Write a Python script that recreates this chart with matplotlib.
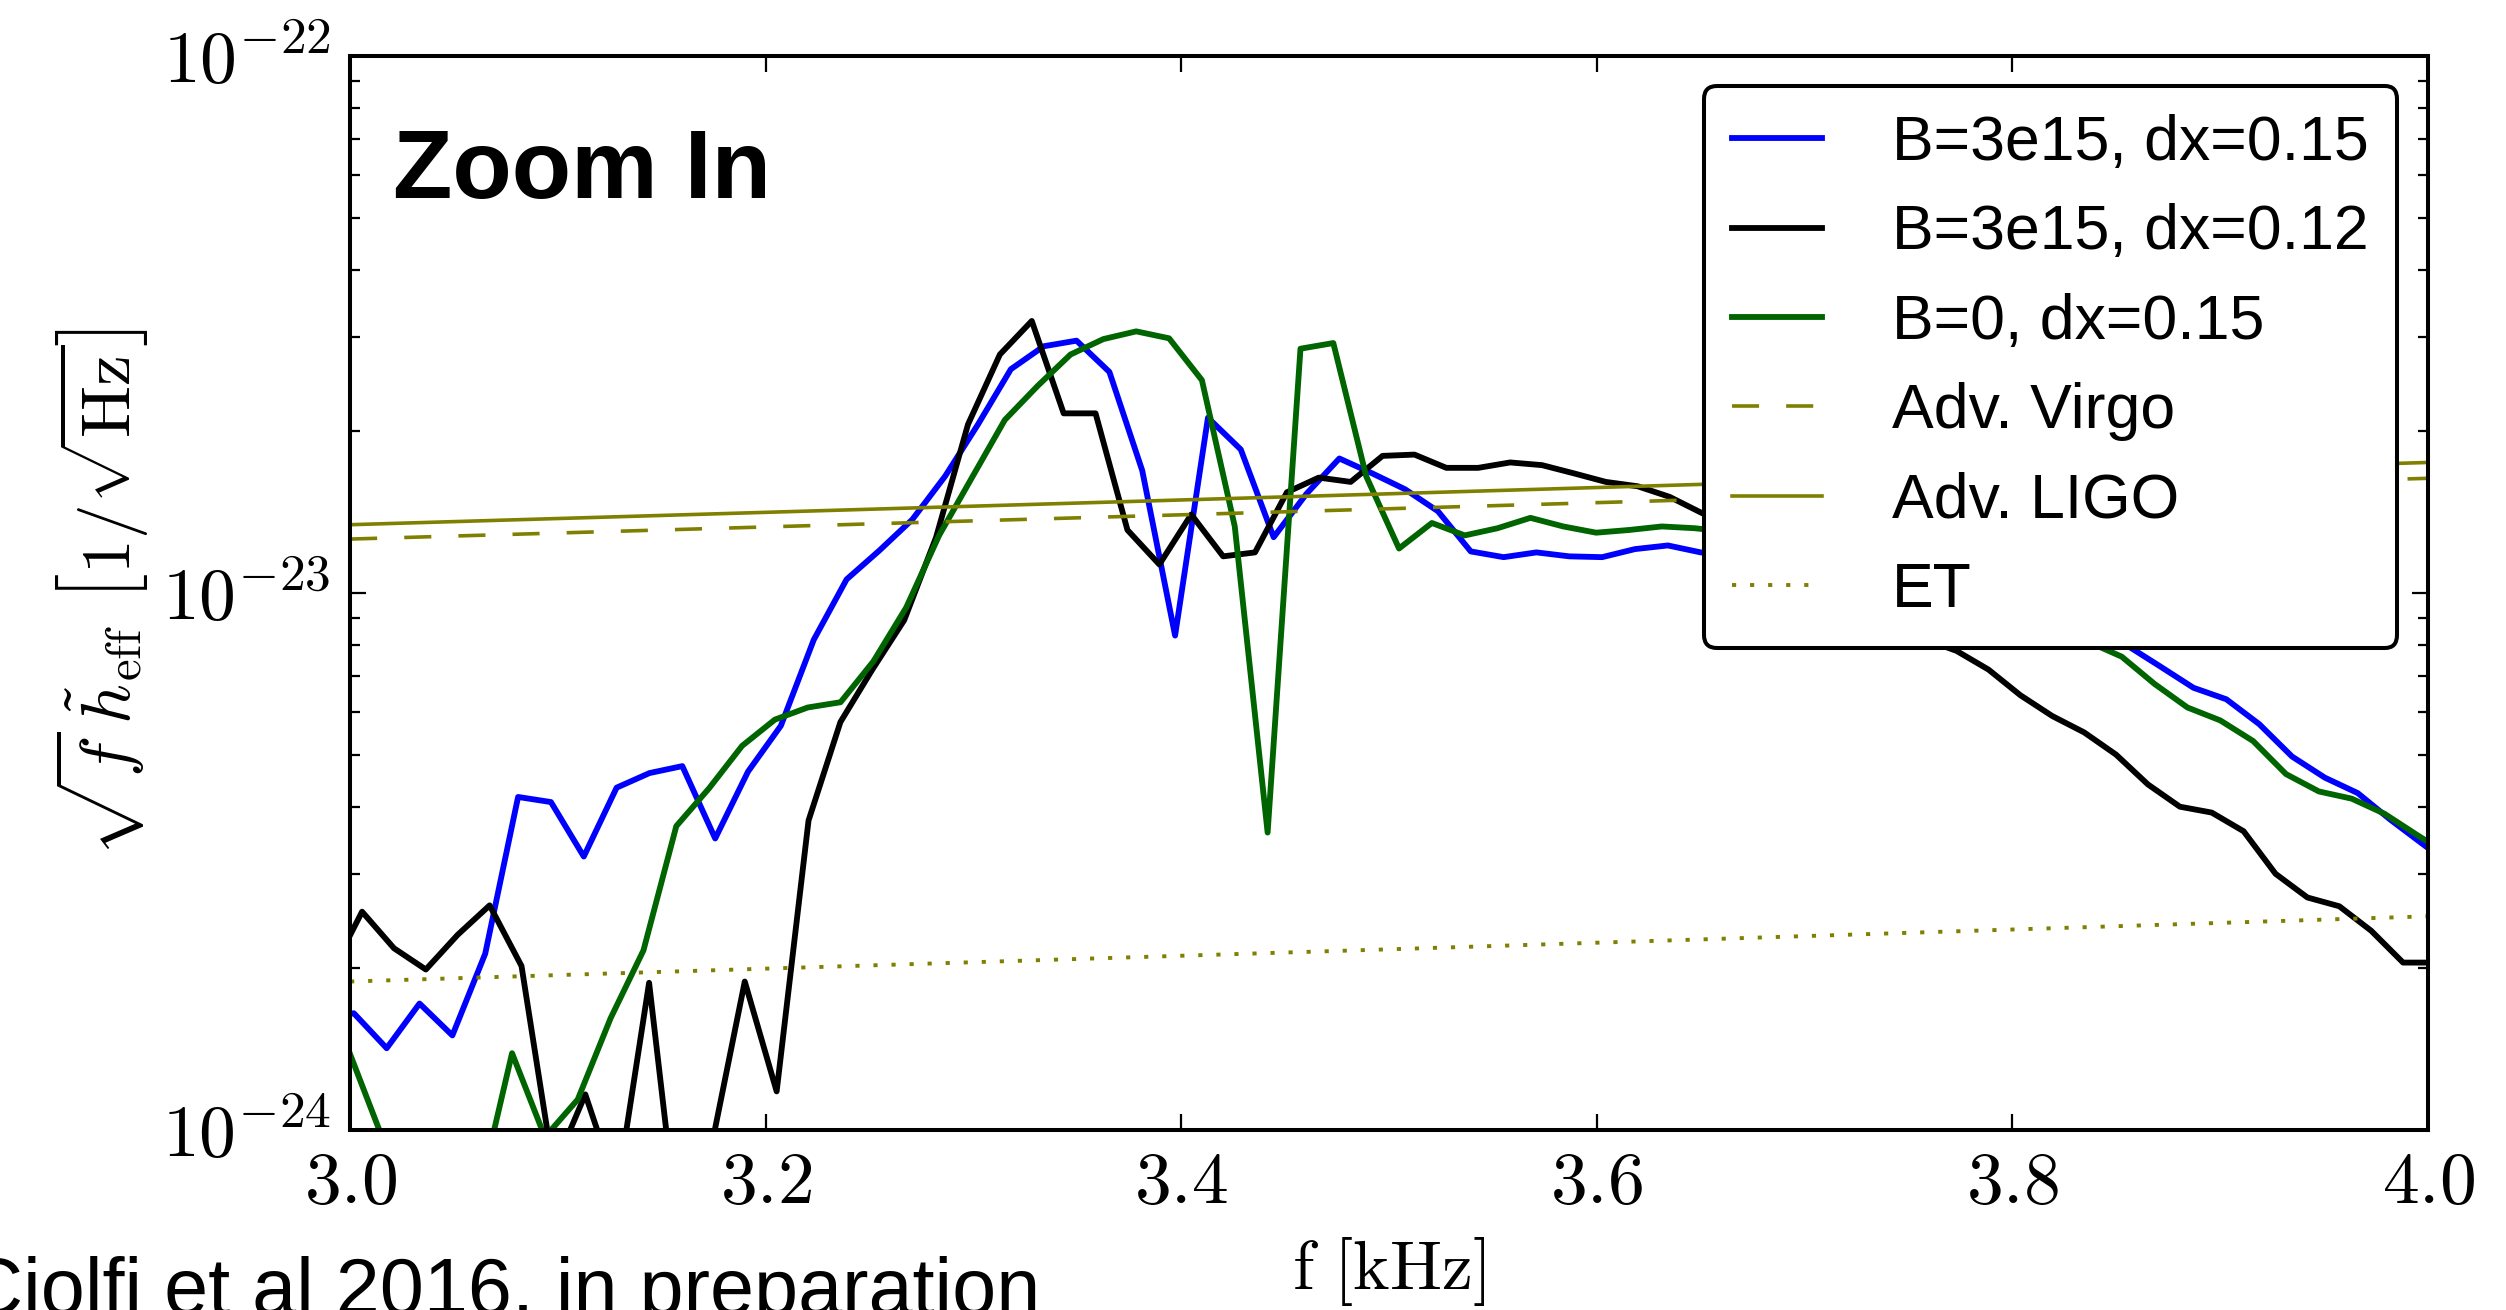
import numpy as np
import matplotlib
matplotlib.use('Agg')
import matplotlib.pyplot as plt
from matplotlib.ticker import FuncFormatter, LogLocator, NullFormatter, NullLocator

plt.rcParams['mathtext.fontset'] = 'cm'
plt.rcParams['font.family'] = ['Liberation Sans', 'DejaVu Sans']
plt.rcParams['lines.scale_dashes'] = False

# sampling of each run [kHz]
freq_b = 2.98599 + 0.015809 * np.arange(66)   # B=3e15, dx=0.15
freq_k = 2.99042 + 0.015347 * np.arange(67)   # B=3e15, dx=0.12
freq_g = 2.99890 + 0.015809 * np.arange(65)   # B=0, dx=0.15

# sqrt(f) h_eff in units of 1e-24 / sqrt(Hz)
blue_h = [1.60, 1.65, 1.42, 1.72, 1.50, 2.13, 4.17, 4.08, 3.23, 4.34,
          4.62, 4.76, 3.49, 4.65, 5.66, 8.18, 10.6, 12.0, 13.7, 16.5,
          20.6, 26.1, 28.8, 29.5, 25.8, 16.9, 8.33, 21.2, 18.5, 12.7,
          15.3, 17.8, 16.7, 15.6, 14.2, 11.95, 11.66, 11.9, 11.7, 11.66,
          12.07, 12.26, 11.9, 11.8, 11.6, 11.5, 11.3, 11.0, 10.7, 10.3,
          9.9, 9.5, 9.1, 8.7, 8.3, 7.97, 7.29, 6.66, 6.34, 5.70,
          4.96, 4.53, 4.24, 3.78, 3.40, 3.06]
black_h = [1.95, 2.55, 2.18, 1.99, 2.31, 2.62, 2.02, 0.845, 1.165, 0.775,
           1.88, 0.58, 0.96, 1.89, 1.18, 3.77, 5.75, 7.2, 8.9, 12.7,
           20.6, 27.8, 32.1, 21.6, 21.6, 13.1, 11.3, 14.0, 11.7, 11.9,
           15.4, 16.4, 16.1, 18.0, 18.1, 17.1, 17.1, 17.5, 17.3, 16.7,
           16.1, 15.8, 15.1, 14.1, 13.3, 12.6, 11.8, 11.0, 10.1, 9.1,
           8.2, 7.8, 7.2, 6.45, 5.9, 5.5, 5.0, 4.4, 4.0, 3.9,
           3.6, 3.0, 2.71, 2.61, 2.35, 2.05, 2.05]
green_h = [1.42, 0.985, 0.85, 0.80, 0.76, 1.39, 0.97, 1.14, 1.615, 2.16,
           3.68, 4.33, 5.19, 5.81, 6.12, 6.26, 7.46, 9.4, 12.8, 16.4,
           21.0, 24.3, 27.8, 29.7, 30.7, 29.8, 24.9, 13.3, 3.58, 28.5,
           29.2, 16.5, 12.1, 13.5, 12.8, 13.2, 13.8, 13.3, 12.95, 13.1,
           13.3, 13.2, 13.0, 12.8, 12.5, 12.1, 11.7, 11.2, 10.7, 10.2,
           9.7, 9.2, 8.7, 8.1, 7.61, 6.77, 6.12, 5.79, 5.30, 4.60,
           4.27, 4.14, 3.88, 3.54, 3.24]

# detector sensitivities
det_f = [3.0, 3.5, 4.0]
virgo = [12.6, 14.35, 16.35]
ligo = [13.4, 15.3, 17.5]
et = [1.89, 2.17, 2.50]

labels = ['B=3e15, dx=0.15', 'B=3e15, dx=0.12', 'B=0, dx=0.15',
          'Adv. Virgo', 'Adv. LIGO', 'ET']

unit = 1e-24
olive = '#808000'

fig = plt.figure(figsize=(25.06, 13.10), dpi=100)
ax = fig.add_axes([0.1397, 0.1374, 0.8292, 0.8199])

ax.plot(freq_b, np.array(blue_h) * unit, color='#0000ff', lw=4.2, label=labels[0])
ax.plot(freq_k, np.array(black_h) * unit, color='k', lw=4.2, label=labels[1])
ax.plot(freq_g, np.array(green_h) * unit, color='#006400', lw=4.2, label=labels[2])
ax.plot(det_f, np.array(virgo) * unit, color=olive, lw=2.6, dashes=(19.5, 19.5), label=labels[3])
ax.plot(det_f, np.array(ligo) * unit, color=olive, lw=2.6, label=labels[4])
ax.plot(det_f, np.array(et) * unit, color=olive, lw=2.8, dashes=(3.0, 10.0), label=labels[5])

ax.set_yscale('log')
ax.set_xlim(3.0, 4.0)
ax.set_ylim(1e-24, 1e-22)

ax.set_xticks([3.0, 3.2, 3.4, 3.6, 3.8, 4.0])
ax.xaxis.set_minor_locator(NullLocator())
ax.xaxis.set_major_formatter(FuncFormatter(lambda v, p: r'$\mathrm{%.1f}$' % v))
ax.yaxis.set_major_locator(LogLocator(base=10, numticks=10))
ax.yaxis.set_minor_locator(LogLocator(base=10, subs=np.arange(2, 10), numticks=20))
ax.yaxis.set_minor_formatter(NullFormatter())
ax.yaxis.set_major_formatter(FuncFormatter(
    lambda v, p: r'$\mathrm{10^{%d}}$' % round(np.log10(v))))

ax.tick_params(which='both', direction='in', top=True, right=True,
               width=1.6, labelsize=53, pad=14)
ax.tick_params(which='major', length=11.5)
ax.tick_params(which='minor', length=7)
for s in ax.spines.values():
    s.set_linewidth(2.9)

ax.set_xlabel(r'$\mathrm{f\ [kHz]}$', fontsize=50)
ax.xaxis.set_label_coords(0.5, -0.098)
ax.set_ylabel(r'$\sqrt{f}\,\tilde{h}_{\rm eff}\ \left[1/\sqrt{\rm Hz}\right]$', fontsize=50)
ax.yaxis.set_label_coords(-0.096, 0.5)

ax.text(0.0207, 0.8678, 'Zoom In', transform=ax.transAxes, fontsize=70,
        fontweight='bold', ha='left', va='baseline')

leg = ax.legend(loc='upper right', bbox_to_anchor=(0.9851, 0.972),
                borderaxespad=0, fontsize=45, handlelength=1.44,
                handletextpad=1.12, labelspacing=0.485, borderpad=0.45,
                fancybox=True, framealpha=1, edgecolor='k')
leg.get_frame().set_linewidth(2.9)

fig.text(1040 / 2506, -4 / 1310, 'Ciolfi et al 2016, in preparation',
         ha='right', va='baseline', fontsize=57)

fig.savefig('out.png', dpi=100)
